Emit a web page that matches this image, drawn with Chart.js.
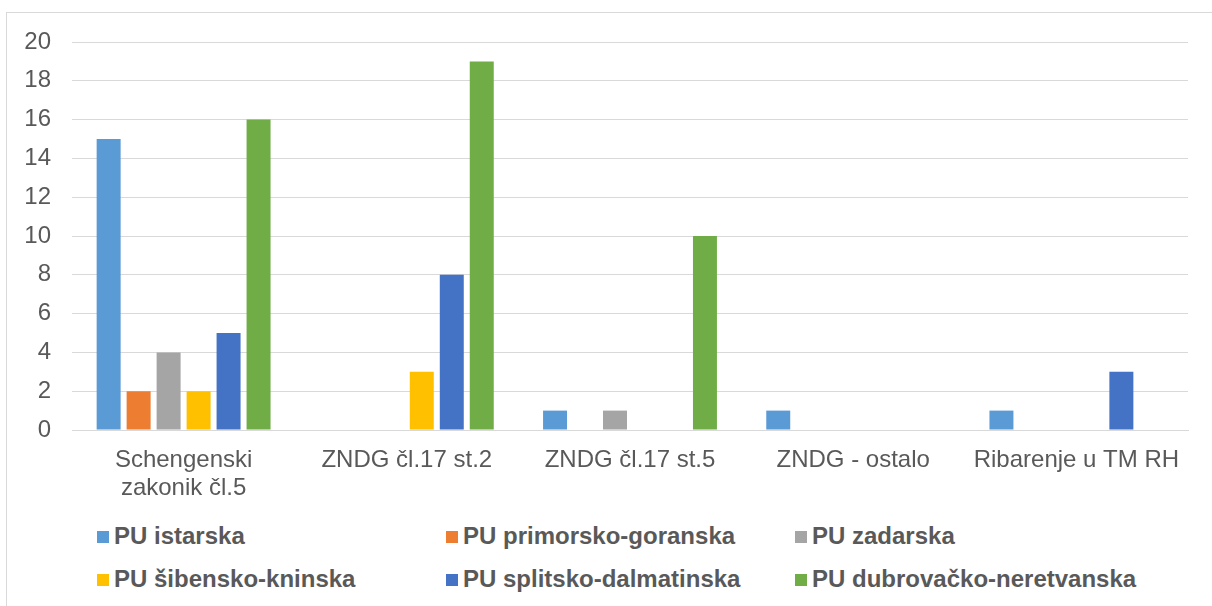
<!DOCTYPE html>
<html>
<head>
<meta charset="utf-8">
<script src="https://cdn.jsdelivr.net/npm/chart.js@4"></script>
<style>
  body { margin: 0; background: #fff; font-family: "Liberation Sans", Arial, sans-serif; }
  #okvir { position: absolute; left: 6px; top: 12px; width: 1230px; height: 620px; border: 1px solid #d9d9d9; box-sizing: border-box; }
  #platno { position: absolute; left: 0; top: 0; width: 1212px; height: 510px; }
  #legenda div { position: absolute; font-weight: bold; font-size: 24px; color: #595959; white-space: nowrap; line-height: 28px; }
  #legenda span { display: inline-block; width: 12px; height: 12px; margin-right: 5px; vertical-align: 1px; }
</style>
</head>
<body>
<div id="okvir"></div>
<div id="platno"><canvas id="graf"></canvas></div>
<div id="legenda"></div>
<script>
// kategorije i vrijednosti po policijskim upravama
var kategorije = [['Schengenski', 'zakonik čl.5'], 'ZNDG čl.17 st.2', 'ZNDG čl.17 st.5', 'ZNDG - ostalo', 'Ribarenje u TM RH'];
var nazivi = ['PU istarska', 'PU primorsko-goranska', 'PU zadarska', 'PU šibensko-kninska', 'PU splitsko-dalmatinska', 'PU dubrovačko-neretvanska'];
var boje = ['#5B9BD5', '#ED7D31', '#A5A5A5', '#FFC000', '#4472C4', '#70AD47'];
var istarska = [15, 0, 1, 1, 1];
var primorsko = [2, 0, 0, 0, 0];
var zadarska = [4, 0, 1, 0, 0];
var sibensko = [2, 3, 0, 0, 0];
var splitsko = [5, 8, 0, 0, 3];
var dubrovacko = [16, 19, 10, 0, 0];
var serije = [istarska, primorsko, zadarska, sibensko, splitsko, dubrovacko];

var font = '"Liberation Sans", Arial, sans-serif';
var skupovi = [];
for (let i = 0; i < serije.length; i++) {
  skupovi.push({ label: nazivi[i], data: serije[i], backgroundColor: boje[i], categoryPercentage: 0.806, barPercentage: 0.8 });
}

new Chart(document.getElementById('graf'), {
  type: 'bar',
  data: { labels: kategorije, datasets: skupovi },
  options: {
    responsive: true,
    maintainAspectRatio: false,
    animation: false,
    layout: { padding: { top: 42, right: 24, left: 0, bottom: 0 } },
    plugins: { legend: { display: false }, tooltip: { enabled: false } },
    scales: {
      x: {
        grid: { display: false },
        border: { color: '#d9d9d9' },
        ticks: { color: '#595959', font: { family: font, size: 24, lineHeight: 1.15 }, padding: 9, maxRotation: 0, autoSkip: false },
        afterFit: function (s) { s.height = 80; }
      },
      y: {
        min: 0, max: 20,
        grid: { color: '#d9d9d9', drawTicks: false },
        border: { display: false },
        ticks: { stepSize: 2, color: '#595959', font: { family: font, size: 24 }, padding: 21 },
        afterFit: function (s) { s.width = 72; }
      }
    }
  }
});

// legenda u tri stupca
var stupci = [97, 446, 795];
var redovi = [522, 565];
var legenda = '';
for (let i = 0; i < nazivi.length; i++) {
  legenda += '<div style="left:' + stupci[i % 3] + 'px;top:' + redovi[Math.floor(i / 3)] + 'px"><span style="background:' + boje[i] + '"></span>' + nazivi[i] + '</div>';
}
document.getElementById('legenda').innerHTML = legenda;
</script>
</body>
</html>
